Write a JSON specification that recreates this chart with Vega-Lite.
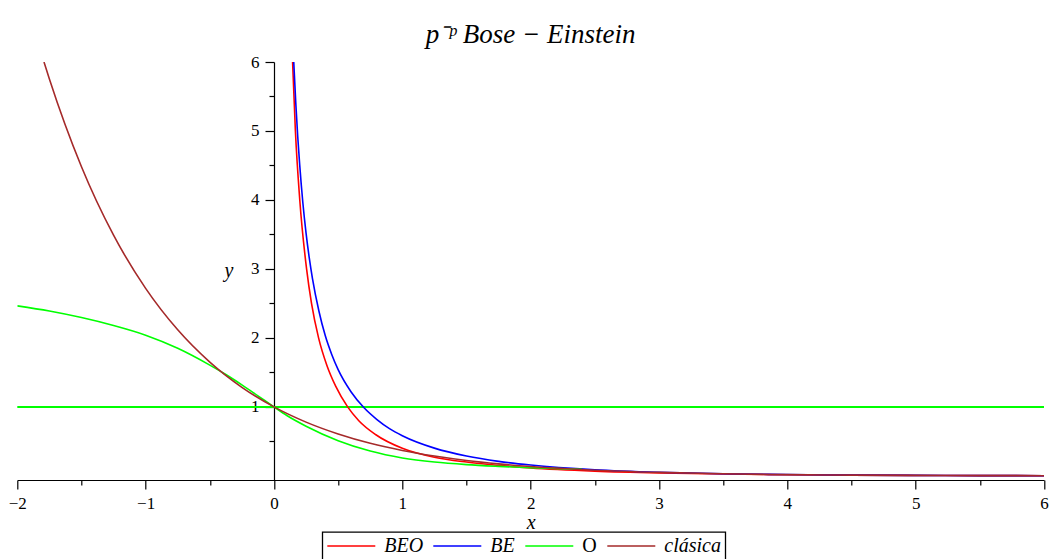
{
  "$schema": "https://vega.github.io/schema/vega-lite/v6.json",
  "autosize": "none",
  "width": 1026.7,
  "height": 418,
  "padding": {"left": 17.3, "top": 62, "right": 5, "bottom": 79},
  "background": "white",
  "config": {
    "view": {"stroke": null},
    "axis": {
      "grid": false,
      "domainColor": "black",
      "domainWidth": 1.2,
      "tickColor": "black",
      "tickWidth": 1.2,
      "labelColor": "black",
      "labelFont": "Liberation Serif",
      "labelFontSize": 17,
      "titleColor": "black",
      "titleFont": "Liberation Serif",
      "titleFontSize": 20,
      "titleFontStyle": "italic",
      "titleFontWeight": "normal",
      "labelFlush": false,
      "labelOverlap": false
    }
  },
  "title": {
    "text": "p⁻ᵖ Bose − Einstein",
    "font": "Liberation Serif",
    "fontStyle": "italic",
    "fontSize": 27,
    "fontWeight": "normal",
    "color": "black",
    "anchor": "middle",
    "offset": 4
  },
  "resolve": {"axis": {"x": "independent", "y": "independent"}},
  "layer": [
    {
      "data": {"values": [{"y": 1}]},
      "mark": {"type": "rule", "color": "#00ff00", "strokeWidth": 2},
      "encoding": {
        "x": {
          "datum": -2, "type": "quantitative",
          "scale": {"domain": [-2, 6], "nice": false, "zero": false},
          "axis": {
            "orient": "bottom",
            "values": [-1.5, -0.5, 0.5, 1.5, 2.5, 3.5, 4.5, 5.5],
            "labels": false,
            "domain": false,
            "tickSize": 5,
            "title": null
          }
        },
        "x2": {"datum": 6},
        "y": {
          "field": "y", "type": "quantitative",
          "scale": {"domain": [-0.06, 6], "nice": false, "zero": false},
          "axis": {
            "orient": "left",
            "offset": -256.7,
            "values": [0.5, 1.5, 2.5, 3.5, 4.5, 5.5],
            "labels": false,
            "domain": false,
            "tickSize": 5,
            "title": null
          }
        }
      }
    },
    {
      "data": {"values": [
        {"s": "BEO", "x": 0.145, "y": 6.0},
        {"s": "BEO", "x": 0.167, "y": 5.0},
        {"s": "BEO", "x": 0.201, "y": 4.0},
        {"s": "BEO", "x": 0.254, "y": 3.0},
        {"s": "BEO", "x": 0.2925, "y": 2.5},
        {"s": "BEO", "x": 0.3475, "y": 2.0},
        {"s": "BEO", "x": 0.4125, "y": 1.6},
        {"s": "BEO", "x": 0.4806, "y": 1.3},
        {"s": "BEO", "x": 0.574, "y": 1.0},
        {"s": "BEO", "x": 0.661, "y": 0.8},
        {"s": "BEO", "x": 0.791, "y": 0.6},
        {"s": "BEO", "x": 1.0, "y": 0.4},
        {"s": "BEO", "x": 1.25, "y": 0.27},
        {"s": "BEO", "x": 1.5, "y": 0.2},
        {"s": "BEO", "x": 1.75, "y": 0.152},
        {"s": "BEO", "x": 2, "y": 0.114},
        {"s": "BEO", "x": 2.5, "y": 0.068},
        {"s": "BEO", "x": 3, "y": 0.042},
        {"s": "BEO", "x": 3.5, "y": 0.026},
        {"s": "BEO", "x": 4, "y": 0.016},
        {"s": "BEO", "x": 4.5, "y": 0.01},
        {"s": "BEO", "x": 5, "y": 0.006},
        {"s": "BEO", "x": 5.5, "y": 0.0037},
        {"s": "BEO", "x": 6, "y": 0.0023},
        {"s": "BE", "x": 0.154, "y": 6.0},
        {"s": "BE", "x": 0.17, "y": 5.4},
        {"s": "BE", "x": 0.185, "y": 4.92},
        {"s": "BE", "x": 0.2, "y": 4.52},
        {"s": "BE", "x": 0.225, "y": 3.96},
        {"s": "BE", "x": 0.25, "y": 3.52},
        {"s": "BE", "x": 0.275, "y": 3.16},
        {"s": "BE", "x": 0.3, "y": 2.86},
        {"s": "BE", "x": 0.35, "y": 2.39},
        {"s": "BE", "x": 0.4, "y": 2.03},
        {"s": "BE", "x": 0.45, "y": 1.76},
        {"s": "BE", "x": 0.5, "y": 1.54},
        {"s": "BE", "x": 0.6, "y": 1.22},
        {"s": "BE", "x": 0.7, "y": 0.99},
        {"s": "BE", "x": 0.8, "y": 0.82},
        {"s": "BE", "x": 0.9, "y": 0.685},
        {"s": "BE", "x": 1, "y": 0.582},
        {"s": "BE", "x": 1.25, "y": 0.402},
        {"s": "BE", "x": 1.5, "y": 0.287},
        {"s": "BE", "x": 1.75, "y": 0.21},
        {"s": "BE", "x": 2, "y": 0.157},
        {"s": "BE", "x": 2.5, "y": 0.089},
        {"s": "BE", "x": 3, "y": 0.052},
        {"s": "BE", "x": 3.5, "y": 0.031},
        {"s": "BE", "x": 4, "y": 0.019},
        {"s": "BE", "x": 4.5, "y": 0.011},
        {"s": "BE", "x": 5, "y": 0.0068},
        {"s": "BE", "x": 5.5, "y": 0.0041},
        {"s": "BE", "x": 6, "y": 0.0025},
        {"s": "O", "x": -2, "y": 2.465},
        {"s": "O", "x": -1.75, "y": 2.39},
        {"s": "O", "x": -1.5, "y": 2.295},
        {"s": "O", "x": -1.25, "y": 2.18},
        {"s": "O", "x": -1, "y": 2.04},
        {"s": "O", "x": -0.75, "y": 1.85},
        {"s": "O", "x": -0.5, "y": 1.606},
        {"s": "O", "x": -0.375, "y": 1.469},
        {"s": "O", "x": -0.25, "y": 1.319},
        {"s": "O", "x": -0.125, "y": 1.16},
        {"s": "O", "x": 0, "y": 1.0},
        {"s": "O", "x": 0.1, "y": 0.875},
        {"s": "O", "x": 0.25, "y": 0.72},
        {"s": "O", "x": 0.5, "y": 0.51},
        {"s": "O", "x": 0.75, "y": 0.36},
        {"s": "O", "x": 1, "y": 0.26},
        {"s": "O", "x": 1.25, "y": 0.2},
        {"s": "O", "x": 1.5, "y": 0.163},
        {"s": "O", "x": 1.75, "y": 0.138},
        {"s": "O", "x": 2, "y": 0.118},
        {"s": "O", "x": 2.4, "y": 0.095},
        {"s": "clásica", "x": -1.792, "y": 6.0},
        {"s": "clásica", "x": -1.75, "y": 5.755},
        {"s": "clásica", "x": -1.5, "y": 4.482},
        {"s": "clásica", "x": -1.25, "y": 3.49},
        {"s": "clásica", "x": -1, "y": 2.718},
        {"s": "clásica", "x": -0.75, "y": 2.117},
        {"s": "clásica", "x": -0.5, "y": 1.649},
        {"s": "clásica", "x": -0.25, "y": 1.284},
        {"s": "clásica", "x": 0, "y": 1.0},
        {"s": "clásica", "x": 0.25, "y": 0.779},
        {"s": "clásica", "x": 0.5, "y": 0.607},
        {"s": "clásica", "x": 0.75, "y": 0.472},
        {"s": "clásica", "x": 1, "y": 0.368},
        {"s": "clásica", "x": 1.25, "y": 0.287},
        {"s": "clásica", "x": 1.5, "y": 0.223},
        {"s": "clásica", "x": 1.75, "y": 0.174},
        {"s": "clásica", "x": 2, "y": 0.135},
        {"s": "clásica", "x": 2.5, "y": 0.082},
        {"s": "clásica", "x": 3, "y": 0.05},
        {"s": "clásica", "x": 3.5, "y": 0.03},
        {"s": "clásica", "x": 4, "y": 0.018},
        {"s": "clásica", "x": 4.5, "y": 0.011},
        {"s": "clásica", "x": 5, "y": 0.0067},
        {"s": "clásica", "x": 5.5, "y": 0.0041},
        {"s": "clásica", "x": 6, "y": 0.0025}
      ]},
      "mark": {"type": "line", "strokeWidth": 1.6, "interpolate": "monotone", "clip": true},
      "encoding": {
        "x": {
          "field": "x", "type": "quantitative",
          "scale": {"domain": [-2, 6], "nice": false, "zero": false},
          "axis": {
            "orient": "bottom",
            "title": "x",
            "values": [-2, -1, 0, 1, 2, 3, 4, 5, 6],
            "format": "~g",
            "tickSize": 9,
            "labelPadding": 6,
            "labelFont": "Liberation Serif",
            "labelFontSize": 17,
            "labelColor": "black",
            "titleY": 48,
            "titleBaseline": "alphabetic"
          }
        },
        "y": {
          "field": "y", "type": "quantitative",
          "scale": {"domain": [-0.06, 6], "nice": false, "zero": false},
          "axis": {
            "orient": "left",
            "offset": -256.7,
            "title": "y",
            "titleAngle": 0,
            "titleX": -45.5,
            "titleY": 214,
            "titleAlign": "center",
            "titleBaseline": "alphabetic",
            "values": [1, 2, 3, 4, 5, 6],
            "format": "~g",
            "tickSize": 9,
            "labelPadding": 6,
            "labelFont": "Liberation Serif",
            "labelFontSize": 17,
            "labelColor": "black"
          }
        },
        "color": {
          "field": "s", "type": "nominal",
          "scale": {"domain": ["BEO", "BE", "O", "clásica"], "range": ["#ff0000", "#0000ff", "#00ff00", "#a52a2a"]},
          "legend": {
            "title": null,
            "orient": "none",
            "direction": "horizontal",
            "legendX": 305,
            "legendY": 470,
            "symbolType": "stroke",
            "symbolSize": 2304,
            "symbolStrokeWidth": 1.6,
            "clipHeight": 20,
            "padding": 4,
            "strokeColor": "black",
            "fillColor": "white",
            "labelFont": "Liberation Serif",
            "labelFontSize": 20,
            "labelFontStyle": "italic",
            "labelColor": "black",
            "labelOffset": 8,
            "columnPadding": 9,
            "labelLimit": 200,
            "encode": {
              "legend": {"update": {"strokeWidth": {"value": 1.3}}},
              "labels": {"update": {"fontStyle": {"signal": "datum.value === 'O' ? 'normal' : 'italic'"}}}
            }
          }
        }
      }
    }
  ]
}
